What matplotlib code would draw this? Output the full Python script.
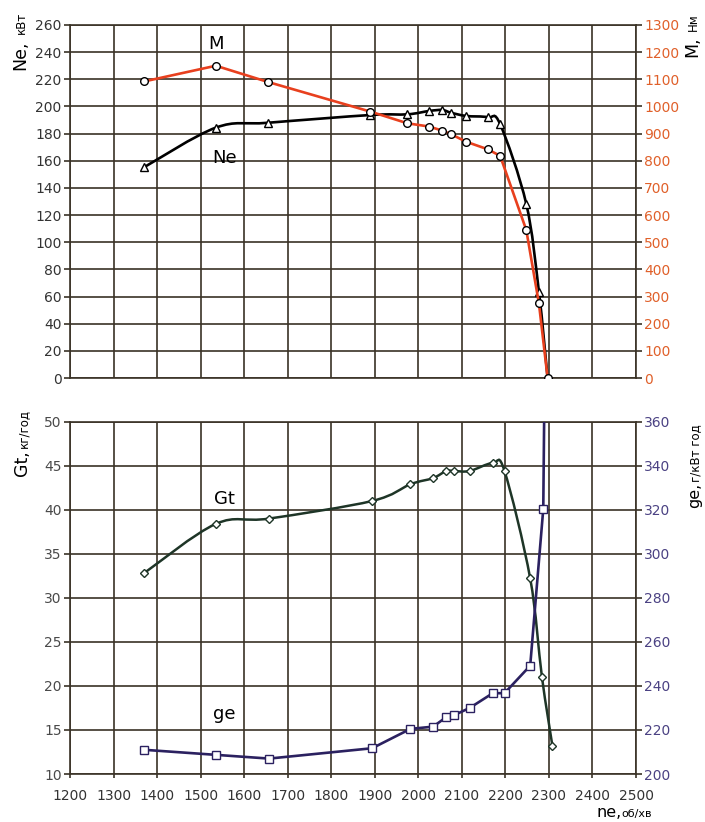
import numpy as np
import matplotlib
matplotlib.use('Agg')
import matplotlib.pyplot as plt
from matplotlib.path import Path
from matplotlib.patches import PathPatch

plt.rcParams['font.family'] = ['DejaVu Sans']

# top panel: power Ne (kW) and torque M (Nm)
n_top = [1370, 1535, 1655, 1890, 1975, 2025, 2055, 2075, 2110, 2160, 2188, 2248, 2277, 2297]
ne_kw = [155.2, 184.4, 188.0, 193.7, 194.2, 196.7, 197.4, 195.4, 193.0, 192.0, 186.9, 128.2, 63.6, 0.0]
m_nm = [1092, 1150, 1090, 981, 938, 926, 911, 898, 870, 842, 818, 545, 275, 0]

# bottom panel: hourly fuel Gt (kg/h) and specific consumption ge (g/kWh)
n_gt = [1370, 1535, 1657, 1894, 1982, 2034, 2064, 2083, 2118, 2171, 2198, 2257, 2284, 2308]
gt = [32.8, 38.4, 39.0, 41.0, 42.9, 43.6, 44.4, 44.4, 44.4, 45.3, 44.4, 32.2, 21.0, 13.2]
n_ge = [1370, 1535, 1657, 1894, 1982, 2034, 2064, 2083, 2118, 2171, 2198, 2257, 2287, 2291]
ge = [211.0, 208.7, 207.0, 211.7, 220.5, 221.5, 225.8, 226.8, 230.0, 236.7, 236.7, 249.2, 320.3, 400.0]

W, H = 705, 822
GRID = '#3a3226'
RED = '#e8401e'
GT_COL = '#1e3527'
GE_COL = '#2b2160'


def px(x, y):
    return x / W, 1 - y / H


def smooth_path(x, y):
    # Excel-like smoothed line (Catmull-Rom as cubic Bezier)
    pts = np.column_stack([x, y]).astype(float)
    verts = [pts[0]]
    codes = [Path.MOVETO]
    for i in range(len(pts) - 1):
        p0 = pts[i - 1] if i > 0 else pts[i]
        p1, p2 = pts[i], pts[i + 1]
        p3 = pts[i + 2] if i + 2 < len(pts) else pts[i + 1]
        verts += [p1 + (p2 - p0) / 6, p2 - (p3 - p1) / 6, p2]
        codes += [Path.CURVE4] * 3
    return Path(verts, codes)


def vlabel(x, y_big, y_small, big, small, big_size=12.5):
    fig.text(*px(x, y_big), big, rotation=90, rotation_mode='anchor',
             ha='left', va='baseline', fontsize=big_size)
    fig.text(*px(x, y_small), small, rotation=90, rotation_mode='anchor',
             ha='left', va='baseline', fontsize=8.5)


def style_axes(ax):
    ax.set_xlim(1200, 2500)
    ax.set_xticks(np.arange(1200, 2501, 100))
    ax.grid(True, color=GRID, lw=1.2)
    for s in ax.spines.values():
        s.set_color(GRID)
        s.set_linewidth(1.2)


fig = plt.figure(figsize=(W / 100, H / 100), dpi=100)

# ---------------- top
ax1 = fig.add_axes([70 / W, 1 - 378 / H, 566 / W, 353 / H])
style_axes(ax1)
ax1.set_ylim(0, 260)
ax1.set_yticks(np.arange(0, 261, 20))
ax1.tick_params(axis='y', length=4, width=1.2, color=GRID, labelsize=10, labelcolor='#333333', pad=2)
ax1.tick_params(axis='x', length=0, labelbottom=False)
ax1.add_patch(PathPatch(smooth_path(n_top, ne_kw), fill=False, ec='black', lw=1.9, zorder=3))
ax1.plot(n_top, ne_kw, ls='none', marker='^', ms=5.5, mfc='white', mec='black', mew=1, zorder=4)

ax1r = ax1.twinx()
ax1r.set_ylim(0, 1300)
ax1r.set_yticks(np.arange(0, 1301, 100))
ax1r.tick_params(axis='y', length=4, width=1.2, color=GRID, labelsize=10, labelcolor='#e0602a', pad=2)
for s in ax1r.spines.values():
    s.set_visible(False)
ax1r.plot(n_top, m_nm, color=RED, lw=1.9, marker='o', ms=5.5, mfc='white', mec='black', mew=1)

ax1.text(1535, 246, 'M', fontsize=13, ha='center', va='center')
ax1.text(1555, 162, 'Ne', fontsize=13, ha='center', va='center')

# ---------------- bottom
ax2 = fig.add_axes([70 / W, 1 - 774 / H, 566 / W, 352.3 / H])
style_axes(ax2)
ax2.set_ylim(10, 50)
ax2.set_yticks(np.arange(10, 51, 5))
ax2.tick_params(axis='y', length=4, width=1.2, color=GRID, labelsize=10, labelcolor='#4a4a4a', pad=2)
ax2.tick_params(axis='x', length=3, width=1.2, color=GRID, labelsize=10, labelcolor='#333333', pad=8)
ax2.add_patch(PathPatch(smooth_path(n_gt, gt), fill=False, ec=GT_COL, lw=1.8, zorder=3))
ax2.plot(n_gt, gt, ls='none', marker='D', ms=3.8, mfc='white', mec=GT_COL, mew=1, zorder=4)

ax2r = ax2.twinx()
ax2r.set_ylim(200, 360)
ax2r.set_yticks(np.arange(200, 361, 20))
ax2r.tick_params(axis='y', length=4, width=1.2, color=GRID, labelsize=10, labelcolor='#4b4283', pad=2)
for s in ax2r.spines.values():
    s.set_visible(False)
ax2r.plot(n_ge, ge, color=GE_COL, lw=1.9, marker='s', ms=5.5, mfc='white', mec=GE_COL, mew=1,
          markevery=list(range(len(ge) - 1)))

ax2.text(1555, 41.2, 'Gt', fontsize=13, ha='center', va='center')
ax2.text(1555, 16.8, 'ge', fontsize=13, ha='center', va='center')

# axis titles
vlabel(25, 70, 34, 'Ne,', 'кВт')
vlabel(697, 57, 31, 'M,', 'Нм')
vlabel(27, 476, 448, 'Gt,', 'кг/год')
vlabel(699, 508, 482, 'ge,', 'г/кВт год', big_size=11.5)
fig.text(*px(622, 817), 'ne,', fontsize=11.5, ha='right', va='baseline')
fig.text(*px(652, 817), 'об/хв', fontsize=8, ha='right', va='baseline')

fig.savefig('out.png', dpi=100)
